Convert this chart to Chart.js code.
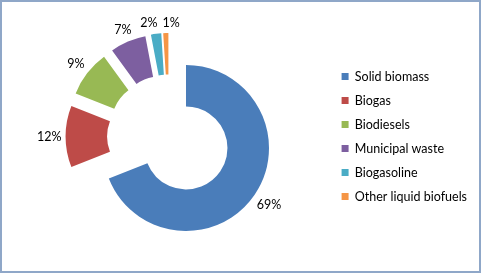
<!DOCTYPE html>
<html>
<head>
<meta charset="utf-8">
<script src="https://cdn.jsdelivr.net/npm/chart.js@4/dist/chart.umd.min.js"></script>
<style>
  html, body { margin: 0; padding: 0; background: #ffffff; }
  #wrap { width: 481px; height: 273px; position: relative; }
</style>
</head>
<body>
<div id="wrap"><canvas id="c" width="481" height="273"></canvas></div>
<script>
const categories = ['Solid biomass', 'Biogas', 'Biodiesels', 'Municipal waste', 'Biogasoline', 'Other liquid biofuels'];
const shares = [69, 12, 9, 7, 2, 1];
const percentLabels = ['69%', '12%', '9%', '7%', '2%', '1%'];
const sliceColors = ['#4A7DBA', '#BE4B48', '#98B954', '#7D5FA0', '#4AACC5', '#F59545'];

const FONT = 'Lato, "Open Sans", sans-serif';
const EXPLODE_PX = 20.5; // every slice pulled out from the centre by this distance

const frame = {
  id: 'frame',
  beforeDraw(chart) {
    const ctx = chart.ctx;
    ctx.save();
    ctx.fillStyle = '#ffffff';
    ctx.fillRect(0, 0, chart.width, chart.height);
    ctx.strokeStyle = '#8FA7C8';
    ctx.lineWidth = 2;
    ctx.strokeRect(1, 1, chart.width - 2, chart.height - 2);
    ctx.restore();
  }
};

// exploded doughnut: move each arc outward along its mid angle
const explode = {
  id: 'explode',
  afterDatasetsUpdate(chart) {
    chart.getDatasetMeta(0).data.forEach(arc => {
      const mid = (arc.startAngle + arc.endAngle) / 2;
      arc.x += Math.cos(mid) * EXPLODE_PX;
      arc.y += Math.sin(mid) * EXPLODE_PX;
    });
  }
};

const sliceLabels = {
  id: 'sliceLabels',
  afterDatasetsDraw(chart) {
    const ctx = chart.ctx;
    const meta = chart.getDatasetMeta(0);
    ctx.save();
    ctx.font = '12.5px ' + FONT;
    ctx.fillStyle = '#000000';
    ctx.textAlign = 'center';
    ctx.textBaseline = 'middle';
    const h = 12;
    const boxes = meta.data.map((arc, i) => {
      const mid = (arc.startAngle + arc.endAngle) / 2;
      const c = Math.cos(mid), s = Math.sin(mid);
      const w = ctx.measureText(percentLabels[i]).width;
      const d = arc.outerRadius + 4 + Math.abs(c) * w / 2 + Math.abs(s) * h / 2;
      return { text: percentLabels[i], x: arc.x + c * d, y: arc.y + s * d, w };
    });
    // push overlapping neighbours apart horizontally
    const gap = 5;
    for (let pass = 0; pass < 4; pass++) {
      for (let i = 0; i < boxes.length - 1; i++) {
        const a = boxes[i], b = boxes[i + 1];
        if (Math.abs(a.y - b.y) >= h) continue;
        const need = (a.w + b.w) / 2 + gap;
        const dist = Math.abs(b.x - a.x);
        if (dist < need) {
          const push = (need - dist) / 2;
          const dir = b.x >= a.x ? 1 : -1;
          a.x -= dir * push;
          b.x += dir * push;
        }
      }
    }
    boxes.forEach(b => ctx.fillText(b.text, b.x, b.y));
    ctx.restore();
  }
};

new Chart(document.getElementById('c'), {
  type: 'doughnut',
  data: {
    labels: categories,
    datasets: [{
      data: shares,
      backgroundColor: sliceColors,
      borderWidth: 0,
      hoverOffset: 0
    }]
  },
  options: {
    responsive: false,
    animation: false,
    events: [],
    cutout: '50%',
    radius: 83,
    layout: { padding: { left: 8, right: 4, top: 0, bottom: 0 } },
    plugins: {
      tooltip: { enabled: false },
      legend: {
        position: 'right',
        labels: {
          boxWidth: 7,
          boxHeight: 7,
          padding: 11.5,
          color: '#000000',
          font: { family: FONT, size: 12.5 }
        }
      }
    }
  },
  plugins: [frame, explode, sliceLabels]
});
</script>
</body>
</html>
